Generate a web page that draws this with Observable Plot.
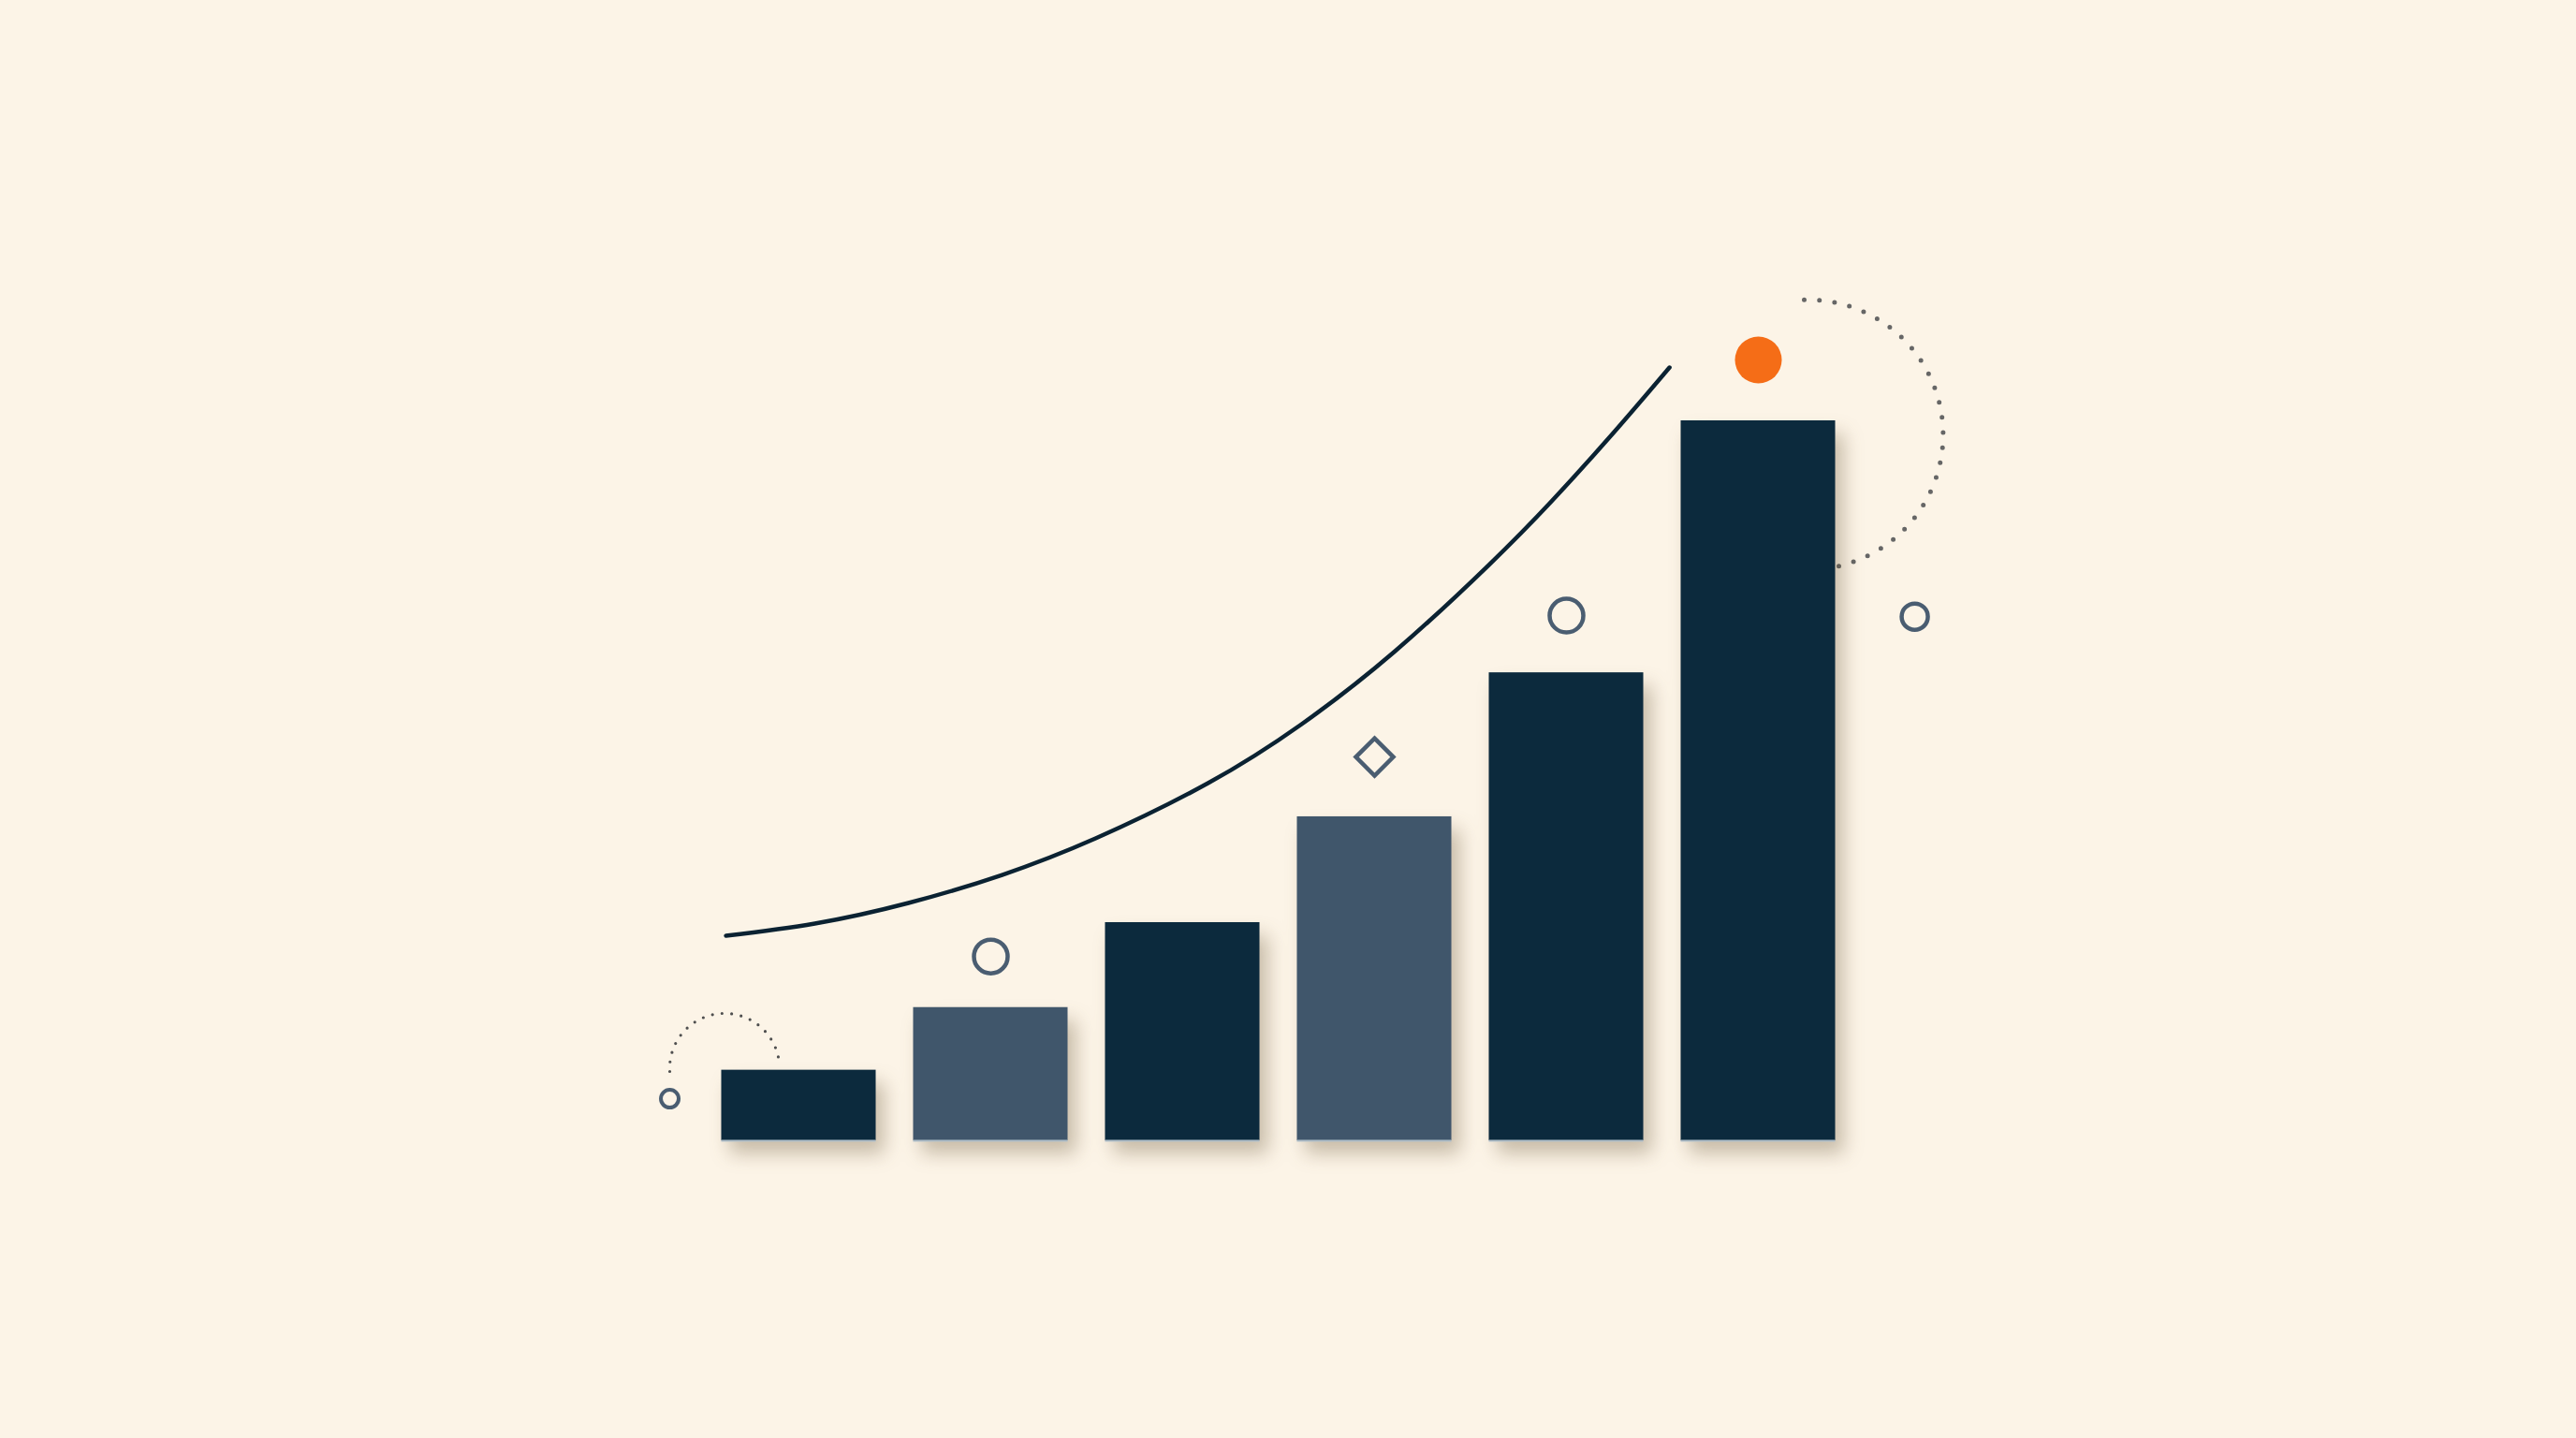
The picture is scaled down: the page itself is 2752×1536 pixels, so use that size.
<!DOCTYPE html>
<html><head><meta charset="utf-8">
<script src="https://cdn.jsdelivr.net/npm/d3@7"></script>
<script src="https://cdn.jsdelivr.net/npm/@observablehq/plot@0.6"></script>
<style>
html,body{margin:0;padding:0;background:#fcf4e7;overflow:hidden}
#chart svg{display:block}
#chart g[aria-label="rect"]{filter:drop-shadow(9px 14px 10px rgba(95,72,40,0.33))}
</style></head><body><div id="chart"></div>
<script>
// bars
const barIndex = [0, 1, 2, 3, 4, 5];
const barValues = [9.8, 18.5, 30.3, 45, 65, 100];
const barTones = ["dark", "slate", "dark", "slate", "dark", "dark"];
// trend curve
const trendX = [-0.380, 0.083, 0.571, 1.059, 1.546, 2.132, 2.620, 3.107, 3.595, 3.922, 4.244, 4.537];
const trendY = [28.48, 30.17, 33.03, 36.93, 42.00, 49.67, 57.87, 68.01, 79.97, 88.82, 98.31, 107.41];
// markers
const markerX = [-0.673, 1.0, 3.0, 4.0, 5.0, 5.815];
const markerY = [5.85, 25.6, 53.3, 72.95, 108.45, 72.8];
const markerKind = ["ringSmall", "ring", "diamond", "ring", "accent", "ringMid"];
// dotted arcs (start / end)
const leftArc = {x1: -0.673, y1: 9.62, x2: -0.102, y2: 10.53};
const rightArc = {x1: 5.239, y1: 116.8, x2: 5.415, y2: 79.8};

const bars = barIndex.map(i => ({i, v: barValues[i], tone: barTones[i]}));
const trend = trendX.map((x, k) => ({x, y: trendY[k]}));
const markers = markerX.map((x, k) => ({x, y: markerY[k], kind: markerKind[k]}));
const half = 0.4025;
const slate = "#4a5d71";

const chart = Plot.plot({
  width: 2752, height: 1536, margin: 0,
  style: {background: "transparent"},
  x: {domain: [0, 5], range: [853, 1878], axis: null},
  y: {domain: [0, 100], range: [1218, 449], axis: null},
  color: {domain: ["dark", "slate"], range: ["#0c2a3d", "#40566b"]},
  marks: [
    Plot.arrow([leftArc], {x1: "x1", y1: "y1", x2: "x2", y2: "y2", bend: 90, headLength: 0,
      stroke: "#4f4f4f", strokeWidth: 3.2, strokeDasharray: "0,10.3", strokeLinecap: "round"}),
    Plot.arrow([rightArc], {x1: "x1", y1: "y1", x2: "x2", y2: "y2", bend: 84.5, headLength: 0,
      stroke: "#666666", strokeWidth: 5, strokeDasharray: "0,16.3", strokeLinecap: "round"}),
    Plot.line(trend, {x: "x", y: "y", curve: "natural", stroke: "#0b2232", strokeWidth: 4.5, strokeLinecap: "round"}),
    Plot.rect(bars, {x1: d => d.i - half, x2: d => d.i + half, y1: 0, y2: "v", fill: "tone"}),
    Plot.ruleY(bars, {y: 0, x1: d => d.i - half, x2: d => d.i + half, stroke: "#aebdc8", strokeWidth: 2}),
    Plot.dot(markers.filter(d => d.kind === "ringSmall"), {x: "x", y: "y", r: 9.5, stroke: slate, strokeWidth: 4, fill: "none"}),
    Plot.dot(markers.filter(d => d.kind === "ring"), {x: "x", y: "y", r: 18, stroke: slate, strokeWidth: 4.5, fill: "none"}),
    Plot.dot(markers.filter(d => d.kind === "ringMid"), {x: "x", y: "y", r: 14, stroke: slate, strokeWidth: 4.5, fill: "none"}),
    Plot.dot(markers.filter(d => d.kind === "diamond"), {x: "x", y: "y", r: 18, symbol: "diamond2", stroke: slate, strokeWidth: 4.5, fill: "none"}),
    Plot.dot(markers.filter(d => d.kind === "accent"), {x: "x", y: "y", r: 25, fill: "#f56d17", stroke: "none"})
  ]
});
document.getElementById("chart").appendChild(chart);
</script></body></html>
